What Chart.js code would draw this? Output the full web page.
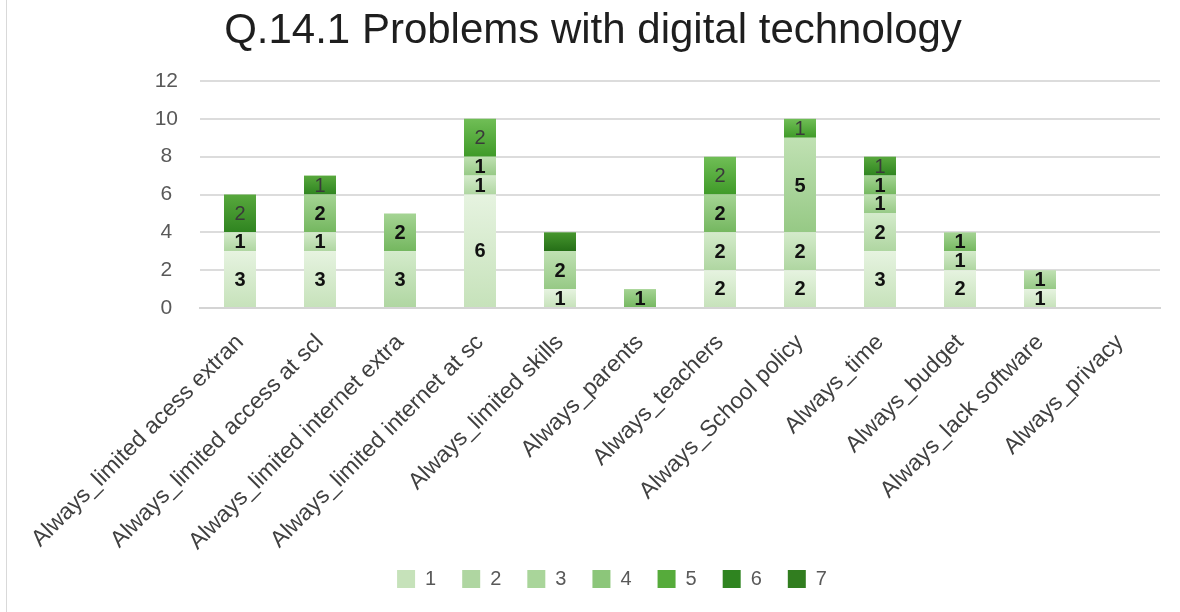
<!DOCTYPE html>
<html>
<head>
<meta charset="utf-8">
<title>Q.14.1 Problems with digital technology</title>
<script src="https://cdn.jsdelivr.net/npm/chart.js@4/dist/chart.umd.min.js"></script>
<style>
  html, body { margin: 0; padding: 0; background: #ffffff; }
  #wrap { position: relative; width: 1180px; height: 612px; }
</style>
</head>
<body>
<div id="wrap"><canvas id="chart" width="1180" height="612"></canvas></div>
<script>
// Categories (problem types) and the count of answers per rating 1..7
const categories = [
  'Always_limited acess extran',
  'Always_limited access at scl',
  'Always_limited internet extra',
  'Always_limited internet at sc',
  'Always_limited skills',
  'Always_parents',
  'Always_teachers',
  'Always_School policy',
  'Always_time',
  'Always_budget',
  'Always_lack software',
  'Always_privacy'
];
const seriesNames = ['1', '2', '3', '4', '5', '6', '7'];
const rating1 = [3, 3, 0, 6, 1, 0, 2, 2, 3, 2, 1, 0];
const rating2 = [1, 1, 3, 1, 0, 0, 2, 2, 2, 1, 0, 0];
const rating3 = [0, 0, 0, 1, 2, 0, 0, 5, 1, 0, 1, 0];
const rating4 = [0, 2, 2, 0, 0, 1, 2, 0, 1, 1, 0, 0];
const rating5 = [0, 0, 0, 2, 0, 0, 2, 1, 0, 0, 0, 0];
const rating6 = [2, 1, 0, 0, 0, 0, 0, 0, 1, 0, 0, 0];
const rating7 = [0, 0, 0, 0, 1, 0, 0, 0, 0, 0, 0, 0];
const yTicks = [0, 2, 4, 6, 8, 10, 12];

// Green ramp: [top, bottom] of each segment's vertical gradient
const shades = [
  ['#e6f3e0', '#c6e2ba'],
  ['#d4ebcb', '#afd6a1'],
  ['#c0e1b3', '#96c985'],
  ['#a5d494', '#74b75f'],
  ['#70be56', '#3f9a28'],
  ['#58a83d', '#2f8420'],
  ['#46962e', '#256e17']
];
const solid = ['#d6ebcd', '#c1e0b5', '#a9d59a', '#8cc67a', '#56ab3b', '#42932a', '#317d1f'];

const allSeries = [rating1, rating2, rating3, rating4, rating5, rating6, rating7];

function segmentFill(ctx) {
  const di = ctx.datasetIndex;
  const chart = ctx.chart;
  if (ctx.type !== 'data' || !chart.chartArea || !chart.scales.y) return solid[di];
  const i = ctx.dataIndex;
  let start = 0;
  for (let k = 0; k < di; k++) start += allSeries[k][i];
  const v = allSeries[di][i];
  const y0 = chart.scales.y.getPixelForValue(start);
  const y1 = chart.scales.y.getPixelForValue(start + v);
  if (!isFinite(y0) || !isFinite(y1) || y0 === y1) return solid[di];
  const g = chart.ctx.createLinearGradient(0, y1, 0, y0);
  g.addColorStop(0, shades[di][0]);
  g.addColorStop(1, shades[di][1]);
  return g;
}

const datasets = allSeries.map((vals, di) => ({
  label: seriesNames[di],
  data: vals,
  backgroundColor: segmentFill,
  borderWidth: 0,
  barPercentage: 0.8,
  categoryPercentage: 0.5
}));

// Values written in the middle of each stacked segment
const segmentLabels = {
  id: 'segmentLabels',
  afterDatasetsDraw(chart) {
    const c = chart.ctx;
    c.save();
    c.textAlign = 'center';
    c.textBaseline = 'middle';
    chart.data.datasets.forEach((ds, di) => {
      if (di === 6) return;
      const meta = chart.getDatasetMeta(di);
      meta.data.forEach((bar, i) => {
        const v = ds.data[i];
        if (!v) return;
        const dark = di >= 4;
        c.font = (dark ? '' : 'bold ') + '20px "Liberation Sans", Arial, sans-serif';
        c.fillStyle = dark ? '#3a3a3a' : '#111111';
        c.fillText(String(v), bar.x, (bar.y + bar.base) / 2 + 1);
      });
    });
    c.restore();
  }
};

// White page with a thin frame line on the left
const pageFrame = {
  id: 'pageFrame',
  beforeDraw(chart) {
    const c = chart.ctx;
    c.save();
    c.fillStyle = '#ffffff';
    c.fillRect(0, 0, chart.width, chart.height);
    c.strokeStyle = '#d9d9d9';
    c.lineWidth = 1;
    c.beginPath();
    c.moveTo(6.5, 0);
    c.lineTo(6.5, chart.height);
    c.stroke();
    c.restore();
  }
};

// The legend sits a little right of centre and tucked under the axis labels
const legendShift = {
  id: 'legendShift',
  afterLayout(chart) {
    const lg = chart.legend;
    if (!lg) return;
    lg.left += 19;
    lg.right += 19;
    lg.top -= 13;
    lg.bottom -= 13;
  }
};

const font = '"Liberation Sans", Arial, sans-serif';

new Chart(document.getElementById('chart'), {
  type: 'bar',
  data: { labels: categories, datasets },
  plugins: [pageFrame, segmentLabels, legendShift],
  options: {
    responsive: false,
    animation: false,
    devicePixelRatio: 1,
    layout: { padding: { left: 26, right: 20, top: 0, bottom: 0 } },
    plugins: {
      title: {
        display: true,
        text: 'Q.14.1 Problems with digital technology',
        color: '#1e1e1e',
        font: { family: font, size: 42, weight: 'normal' },
        padding: { top: 6, bottom: 24.6 }
      },
      legend: {
        position: 'bottom',
        labels: {
          color: '#595959',
          font: { family: font, size: 20 },
          boxWidth: 18,
          boxHeight: 18,
          padding: 26
        }
      },
      tooltip: { enabled: false }
    },
    scales: {
      x: {
        stacked: true,
        grid: { display: false },
        border: { color: '#d4d4d4', width: 2 },
        ticks: {
          color: '#404040',
          font: { family: font, size: 23 },
          minRotation: 45,
          maxRotation: 45,
          autoSkip: false,
          padding: 13
        },
        afterFit(scale) { scale.height = 248; }
      },
      y: {
        stacked: true,
        min: 0,
        max: 12,
        afterBuildTicks(scale) { scale.ticks = yTicks.map(v => ({ value: v })); },
        grid: { color: '#dcdcdc', lineWidth: 2, drawTicks: false },
        border: { display: false },
        ticks: {
          color: '#595959',
          font: { family: font, size: 21 },
          crossAlign: 'center',
          padding: 22
        },
        afterFit(scale) { scale.width = 174; }
      }
    }
  }
});
</script>
</body>
</html>
